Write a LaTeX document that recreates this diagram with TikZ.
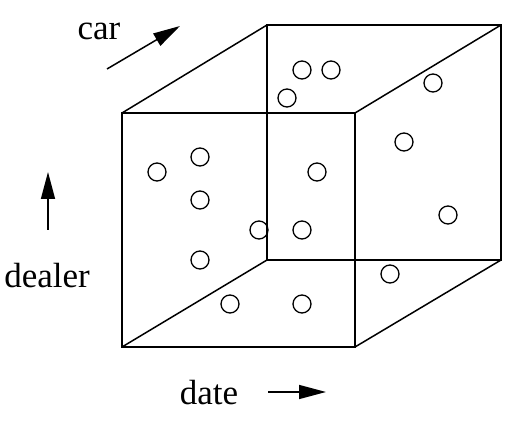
\documentclass[tikz,border=0pt]{standalone}
\usepackage{fontspec}
\setmainfont{Liberation Serif}
\usetikzlibrary{arrows.meta}
\begin{document}
\begin{tikzpicture}[x=1pt,y=-1pt,
  edge/.style={line width=1.5pt, line join=miter},
  pt/.style={circle, draw, line width=1.3pt, minimum size=18pt, inner sep=0pt},
  axisarrow/.style={line width=1.5pt, -{Triangle[length=27pt,width=14pt]}},
  lbl/.style={font=\fontsize{35}{40}\selectfont, inner sep=0pt}]
\useasboundingbox (0,0) rectangle (512,438);
% cube vertices
\coordinate (f1) at (122,113);
\coordinate (f2) at (355,113);
\coordinate (f3) at (355,347);
\coordinate (f4) at (122,347);
\coordinate (b1) at (267,25);
\coordinate (b2) at (501,25);
\coordinate (b3) at (501,260);
\coordinate (b4) at (267,260);
\draw[edge] (f1) -- (f2) -- (f3) -- (f4) -- cycle;
\draw[edge] (b1) -- (b2) -- (b3) -- (b4) -- cycle;
\draw[edge] (f1) -- (b1);
\draw[edge] (f2) -- (b2);
\draw[edge] (f3) -- (b3);
\draw[edge] (f4) -- (b4);
% points
\node[pt] (p1) at (157,172) {};
\node[pt] (p2) at (200,157) {};
\node[pt] (p3) at (200,200) {};
\node[pt] (p4) at (200,260) {};
\node[pt] (p5) at (230,304) {};
\node[pt] (p6) at (259,230) {};
\node[pt] (p7) at (302,230) {};
\node[pt] (p8) at (302,304) {};
\node[pt] (p9) at (390,274) {};
\node[pt] (p10) at (448,215) {};
\node[pt] (p11) at (404,142) {};
\node[pt] (p12) at (433,83) {};
\node[pt] (p13) at (302,70) {};
\node[pt] (p14) at (331,70) {};
\node[pt] (p15) at (287,98) {};
\node[pt] (p16) at (317,172) {};
% axis labels and arrows
\node[lbl, anchor=base] (car) at (99,40) {car};
\coordinate (cs) at (107,69);
\coordinate (ce) at (180,26);
\draw[axisarrow] (cs) -- (ce);
\node[lbl, anchor=base] (dealer) at (47,288) {dealer};
\coordinate (ds) at (48,230);
\coordinate (de) at (48,172);
\draw[axisarrow] (ds) -- (de);
\node[lbl, anchor=base] (date) at (209,405) {date};
\coordinate (ts) at (268,392);
\coordinate (te) at (326,392);
\draw[axisarrow] (ts) -- (te);
\end{tikzpicture}
\end{document}
